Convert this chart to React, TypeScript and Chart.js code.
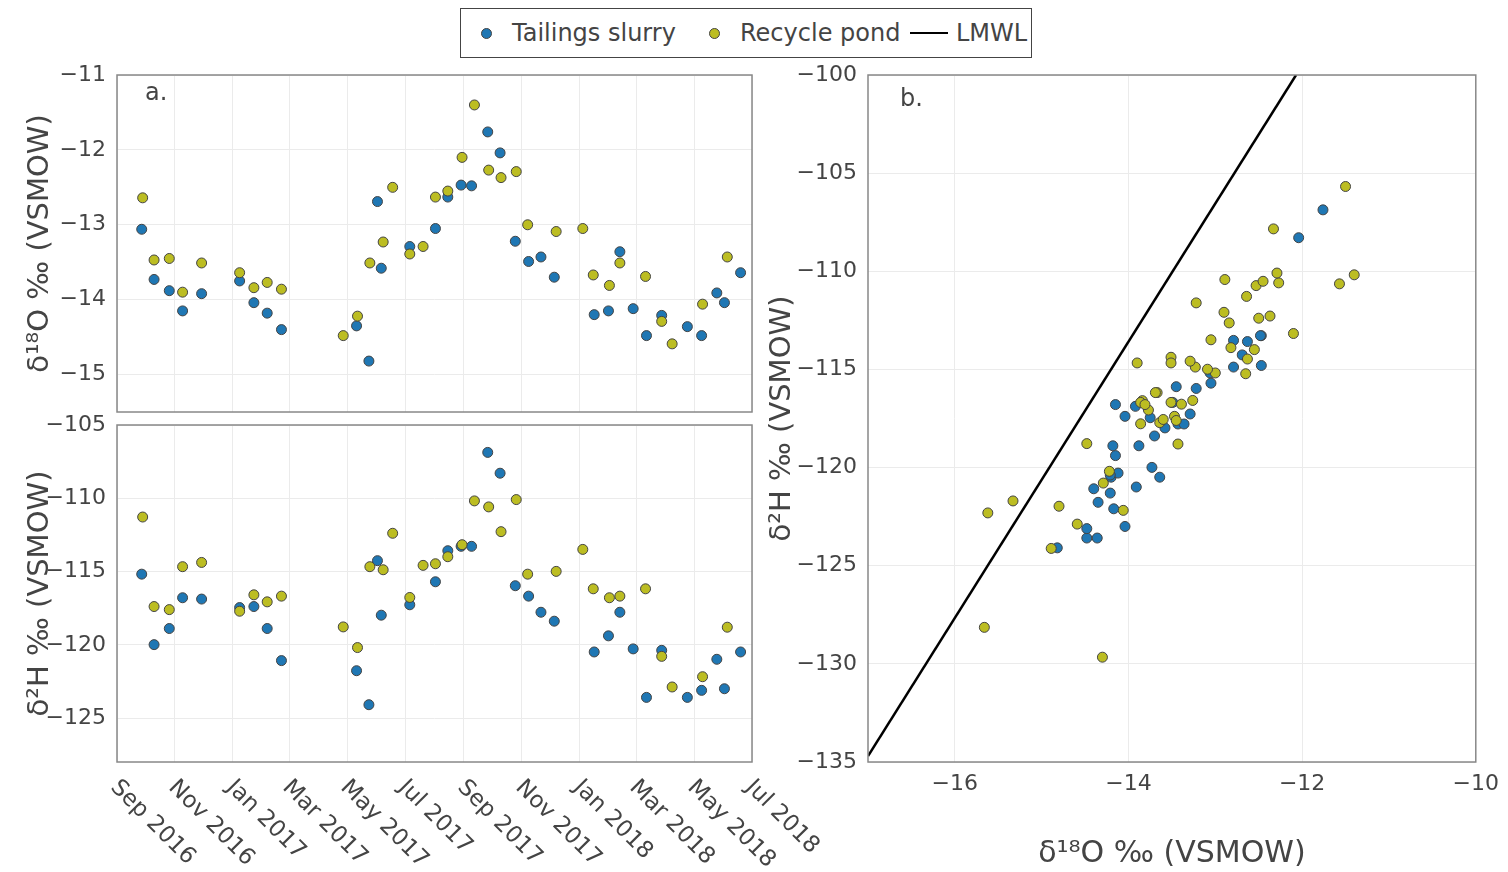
import React, { useEffect, useRef } from 'react';
import { Chart, registerables } from 'chart.js';

Chart.register(...registerables);

const FONT = '"DejaVu Sans", Verdana, sans-serif';
const TEXT = '#444';
const BLUE = '#1f77b4';
const OLIVE = '#bcbd22';
const EDGE = '#444';
const GRID = '#ebebeb';
const FRAME = '#888';

// ---- tick labels ----
const tickDates = ['2016-09-01', '2016-11-01', '2017-01-01', '2017-03-01', '2017-05-01', '2017-07-01', '2017-09-01', '2017-11-01', '2018-01-01', '2018-03-01', '2018-05-01', '2018-07-01'];
const tickLabels = ['Sep 2016', 'Nov 2016', 'Jan 2017', 'Mar 2017', 'May 2017', 'Jul 2017', 'Sep 2017', 'Nov 2017', 'Jan 2018', 'Mar 2018', 'May 2018', 'Jul 2018'];
const o18Ticks = [-15, -14, -13, -12, -11];
const h2TicksLeft = [-125, -120, -115, -110, -105];
const h2TicksRight = [-135, -130, -125, -120, -115, -110, -105, -100];
const o18TicksRight = [-16, -14, -12, -10];

// ---- Tailings slurry ----
const slurryDates = ['2016-09-27', '2016-10-10', '2016-10-26', '2016-11-09', '2016-11-29', '2017-01-08', '2017-01-23', '2017-02-06', '2017-02-21', '2017-05-11', '2017-05-24', '2017-06-02', '2017-06-06', '2017-07-06', '2017-08-02', '2017-08-15', '2017-08-29', '2017-09-09', '2017-09-26', '2017-10-09', '2017-10-25', '2017-11-08', '2017-11-21', '2017-12-05', '2018-01-16', '2018-01-31', '2018-02-12', '2018-02-26', '2018-03-12', '2018-03-28', '2018-04-24', '2018-05-09', '2018-05-25', '2018-06-02', '2018-06-19'];
const slurryO18 = [-13.06, -13.73, -13.88, -14.15, -13.92, -13.75, -14.04, -14.18, -14.4, -14.35, -14.82, -12.69, -13.58, -13.29, -13.05, -12.63, -12.47, -12.48, -11.76, -12.04, -13.22, -13.49, -13.43, -13.7, -14.2, -14.15, -13.36, -14.12, -14.48, -14.21, -14.36, -14.48, -13.91, -14.04, -13.64];
const slurryH2 = [-115.18, -119.99, -118.89, -116.79, -116.88, -117.46, -117.39, -118.89, -121.08, -121.77, -124.09, -114.26, -117.98, -117.27, -115.7, -113.58, -113.28, -113.28, -106.87, -108.29, -115.97, -116.68, -117.78, -118.39, -120.49, -119.39, -117.78, -120.28, -123.59, -120.38, -123.59, -123.11, -120.99, -123.0, -120.49];
const slurryExtraO18 = [-14.21, -14.17, -12.79, -12.79, -12.47, -13.45];
const slurryExtraH2 = [-121.3, -122.1, -113.52, -114.88, -114.8, -115.88];

// ---- Recycle pond ----
const pondDates = ['2016-09-28', '2016-10-10', '2016-10-26', '2016-11-09', '2016-11-29', '2017-01-08', '2017-01-23', '2017-02-06', '2017-02-21', '2017-04-27', '2017-05-12', '2017-05-25', '2017-06-08', '2017-06-18', '2017-07-06', '2017-07-20', '2017-08-02', '2017-08-15', '2017-08-30', '2017-09-12', '2017-09-27', '2017-10-10', '2017-10-26', '2017-11-07', '2017-12-07', '2018-01-04', '2018-01-15', '2018-02-01', '2018-02-12', '2018-03-11', '2018-03-28', '2018-04-08', '2018-05-10', '2018-06-05'];
const pondO18 = [-12.64, -13.47, -13.45, -13.9, -13.51, -13.64, -13.84, -13.77, -13.86, -14.48, -14.22, -13.51, -13.23, -12.5, -13.39, -13.29, -12.63, -12.55, -12.1, -11.4, -12.27, -12.37, -12.29, -13.0, -13.09, -13.05, -13.67, -13.81, -13.51, -13.69, -14.29, -14.59, -14.06, -13.43];
const pondH2 = [-111.28, -117.39, -117.6, -114.67, -114.38, -117.71, -116.59, -117.07, -116.68, -118.78, -120.19, -114.67, -114.88, -112.39, -116.77, -114.58, -114.47, -113.99, -113.17, -110.18, -110.59, -112.28, -110.09, -115.18, -114.99, -113.49, -116.18, -116.79, -116.68, -116.18, -120.79, -122.88, -122.18, -118.8];
const pondExtraO18 = [-15.33, -15.62, -14.8, -14.89, -15.66, -14.3, -13.86, -13.6, -13.26, -12.65, -12.82, -13.22, -12.9, -12.84, -12.89, -12.53, -12.45, -11.57, -12.33, -11.5];
const pondExtraH2 = [-121.7, -122.31, -121.97, -124.12, -128.14, -129.66, -117.77, -117.55, -116.58, -115.22, -113.89, -111.61, -112.09, -112.63, -110.42, -110.73, -110.51, -110.64, -107.84, -105.68];

// ---- LMWL ----
const lmwlO18 = [-17, -12.07];
const lmwlH2 = [-134.7, -100];

const dateMs = (s: string) => Date.parse(s + 'T00:00:00Z');
const fmt = (v: number) => (v < 0 ? '\u2212' + Math.abs(v) : String(v));
const zip = (xs: any[], ys: number[]) => xs.map((x, i) => ({ x, y: ys[i] }));

const framePlugin = {
  id: 'frame',
  afterDraw(chart: any) {
    const { ctx, chartArea: a } = chart;
    ctx.save();
    ctx.strokeStyle = FRAME;
    ctx.lineWidth = 1.5;
    ctx.strokeRect(a.left, a.top, a.right - a.left, a.bottom - a.top);
    ctx.restore();
  },
};

const panelLabel = (text: string, dx: number, dy: number) => ({
  id: 'panelLabel',
  afterDraw(chart: any) {
    const { ctx, chartArea: a } = chart;
    ctx.save();
    ctx.font = `24px ${FONT}`;
    ctx.fillStyle = TEXT;
    ctx.textAlign = 'left';
    ctx.textBaseline = 'alphabetic';
    ctx.fillText(text, a.left + dx, a.top + dy);
    ctx.restore();
  },
});

const dateLabels = (dx: number, dy: number) => ({
  id: 'dateLabels',
  afterDraw(chart: any) {
    const { ctx, chartArea: a } = chart;
    const sx = chart.scales.x;
    ctx.save();
    ctx.font = `23px ${FONT}`;
    ctx.fillStyle = TEXT;
    ctx.textAlign = 'left';
    ctx.textBaseline = 'middle';
    sx.ticks.forEach((tk: any, i: number) => {
      const px = sx.getPixelForValue(tk.value);
      ctx.save();
      ctx.translate(px + dx, a.bottom + dy);
      ctx.rotate(Math.PI / 4);
      ctx.fillText(tickLabels[i], 0, 0);
      ctx.restore();
    });
    ctx.restore();
  },
});

const dateAxis = (height: number) => ({
  type: 'linear',
  min: dateMs(tickDates[0]),
  max: dateMs(tickDates[tickDates.length - 1]),
  afterBuildTicks: (s: any) => {
    s.ticks = tickDates.map((d) => ({ value: dateMs(d) }));
  },
  afterFit: (s: any) => {
    s.height = height;
  },
  ticks: { display: false },
  grid: { color: GRID, drawTicks: false, lineWidth: 1 },
  border: { display: false },
});

const valueAxis = (min: number, max: number, ticks: number[], title: string, width: number, titlePad: number) => ({
  type: 'linear',
  min,
  max,
  afterBuildTicks: (s: any) => {
    s.ticks = ticks.map((v) => ({ value: v }));
  },
  afterFit: (s: any) => {
    s.width = width;
  },
  ticks: { color: TEXT, font: { family: FONT, size: 22 }, padding: 11, callback: (v: any) => fmt(Number(v)) },
  grid: { color: GRID, drawTicks: false, lineWidth: 1 },
  border: { display: false },
  title: { display: true, text: title, color: TEXT, font: { family: FONT, size: 29 }, padding: { top: titlePad, bottom: 0 } },
});

const pointStyle = (color: string) => ({
  backgroundColor: color,
  borderColor: EDGE,
  borderWidth: 1,
  pointRadius: 5,
  pointHoverRadius: 5,
});

const baseOptions = (padding: any, scales: any) => ({
  responsive: false,
  maintainAspectRatio: false,
  animation: false,
  events: [],
  layout: { padding },
  plugins: { legend: { display: false }, tooltip: { enabled: false } },
  scales,
});

function makeTopLeft() {
  return {
    type: 'scatter',
    data: {
      datasets: [
        { label: 'Recycle pond', data: zip(pondDates.map(dateMs), pondO18), order: 0, ...pointStyle(OLIVE) },
        { label: 'Tailings slurry', data: zip(slurryDates.map(dateMs), slurryO18), order: 1, ...pointStyle(BLUE) },
      ],
    },
    options: baseOptions(
      { left: 0, right: 18, top: 25, bottom: 0 },
      {
        x: dateAxis(30),
        y: valueAxis(-15.5, -11, o18Ticks, 'δ¹⁸O ‰ (VSMOW)', 117, 23),
      }
    ),
    plugins: [framePlugin, panelLabel('a.', 28, 25)],
  };
}

function makeBottomLeft() {
  return {
    type: 'scatter',
    data: {
      datasets: [
        { label: 'Recycle pond', data: zip(pondDates.map(dateMs), pondH2), order: 0, ...pointStyle(OLIVE) },
        { label: 'Tailings slurry', data: zip(slurryDates.map(dateMs), slurryH2), order: 1, ...pointStyle(BLUE) },
      ],
    },
    options: baseOptions(
      { left: 0, right: 88, top: 25, bottom: 0 },
      {
        x: dateAxis(110),
        y: valueAxis(-128, -105, h2TicksLeft, 'δ²H ‰ (VSMOW)', 117, 23),
      }
    ),
    plugins: [framePlugin, dateLabels(-3, 22)],
  };
}

function makeRight() {
  const xAxis: any = {
    type: 'linear',
    min: -17,
    max: -10,
    afterBuildTicks: (s: any) => {
      s.ticks = o18TicksRight.map((v) => ({ value: v }));
    },
    afterFit: (s: any) => {
      s.height = 110;
    },
    ticks: { color: TEXT, font: { family: FONT, size: 22 }, padding: 9, maxRotation: 0, callback: (v: any) => fmt(Number(v)) },
    grid: { color: GRID, drawTicks: false, lineWidth: 1 },
    border: { display: false },
    title: { display: true, text: 'δ¹⁸O ‰ (VSMOW)', color: TEXT, font: { family: FONT, size: 30 }, padding: { top: 0, bottom: 0 } },
  };
  return {
    type: 'scatter',
    data: {
      datasets: [
        {
          label: 'LMWL',
          type: 'line',
          data: zip(lmwlO18, lmwlH2),
          showLine: true,
          borderColor: '#000',
          borderWidth: 2.5,
          pointRadius: 0,
          fill: false,
          order: -1,
        },
        { label: 'Recycle pond', data: zip(pondO18.concat(pondExtraO18), pondH2.concat(pondExtraH2)), order: 0, ...pointStyle(OLIVE) },
        { label: 'Tailings slurry', data: zip(slurryO18.concat(slurryExtraO18), slurryH2.concat(slurryExtraH2)), order: 1, ...pointStyle(BLUE) },
      ],
    },
    options: baseOptions(
      { left: 0, right: 30, top: 25, bottom: 0 },
      {
        x: xAxis,
        y: valueAxis(-135, -100, h2TicksRight, 'δ²H ‰ (VSMOW)', 118, 15),
      }
    ),
    plugins: [framePlugin, panelLabel('b.', 32, 31)],
  };
}

function ChartCanvas(props: { left: number; top: number; width: number; height: number; make: () => any }) {
  const ref = useRef<HTMLCanvasElement>(null);
  useEffect(() => {
    const chart = new Chart(ref.current as HTMLCanvasElement, props.make());
    return () => chart.destroy();
  }, []);
  return (
    <canvas
      ref={ref}
      width={props.width}
      height={props.height}
      style={{ position: 'absolute', left: props.left, top: props.top, width: props.width, height: props.height }}
    />
  );
}

function Legend() {
  const dot = (color: string, cx: number) => (
    <span
      style={{
        position: 'absolute',
        left: cx - 460 - 1 - 5.5,
        top: 33 - 8 - 1 - 5.5,
        width: 11,
        height: 11,
        borderRadius: '50%',
        background: color,
        border: `1px solid ${EDGE}`,
        boxSizing: 'border-box',
      }}
    />
  );
  const label = (text: string, x: number) => (
    <span style={{ position: 'absolute', left: x - 461, top: 0, height: 48, lineHeight: '48px', whiteSpace: 'nowrap' }}>{text}</span>
  );
  return (
    <div
      style={{
        position: 'absolute',
        left: 460,
        top: 8,
        width: 572,
        height: 50,
        border: '1px solid #444',
        boxSizing: 'border-box',
        fontFamily: FONT,
        fontSize: 24,
        color: TEXT,
        background: '#fff',
      }}
    >
      {dot(BLUE, 486)}
      {label('Tailings slurry', 512)}
      {dot(OLIVE, 714)}
      {label('Recycle pond', 740)}
      <span style={{ position: 'absolute', left: 910 - 461, top: 33 - 9 - 1, width: 38, height: 2, background: '#000' }} />
      {label('LMWL', 956)}
    </div>
  );
}

export default function App() {
  return (
    <div style={{ position: 'absolute', left: 0, top: 0, width: 1508, height: 872, background: '#fff', overflow: 'hidden' }}>
      <ChartCanvas left={0} top={50} width={770} height={392} make={makeTopLeft} />
      <ChartCanvas left={0} top={400} width={840} height={472} make={makeBottomLeft} />
      <ChartCanvas left={750} top={50} width={758} height={822} make={makeRight} />
      <Legend />
    </div>
  );
}
